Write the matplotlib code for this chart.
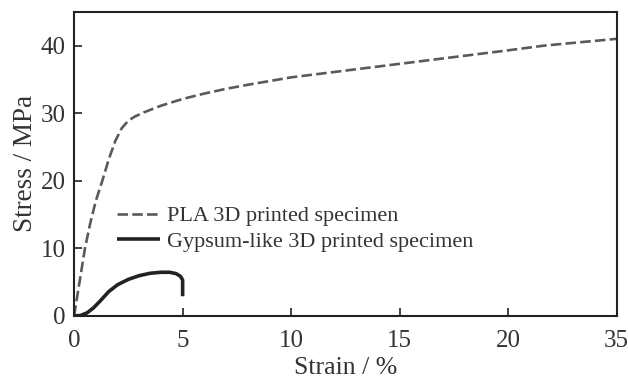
import numpy as np
import matplotlib
matplotlib.use('Agg')
import matplotlib.pyplot as plt

# PLA 3D printed specimen (strain %, stress MPa)
pla_strain = [0, 0.25, 0.5, 0.75, 1.0, 1.3, 1.6, 1.9, 2.2, 2.5, 2.8, 3.2, 4.0, 5.0, 6.0, 7.0, 8.0, 10.0, 12.0, 15.0, 17.5, 20.0, 25.0, 30.0, 35.0]
pla_stress = [0, 5.0, 10.0, 13.8, 17.0, 20.0, 23.2, 25.9, 27.8, 28.9, 29.5, 30.1, 31.1, 32.1, 32.9, 33.6, 34.2, 35.3, 36.1, 37.3, 38.3, 39.3, 40.0, 40.5, 41.0]

# Gypsum-like 3D printed specimen
gyp_strain = [0, 0.3, 0.6, 0.9, 1.2, 1.6, 2.0, 2.5, 3.0, 3.5, 4.0, 4.4, 4.7, 4.9, 5.0, 5.0]
gyp_stress = [0, 0.05, 0.45, 1.2, 2.2, 3.6, 4.6, 5.4, 5.95, 6.3, 6.45, 6.45, 6.25, 5.85, 5.3, 2.9]

x_ticks = [0, 5, 10, 15, 20, 35]
y_ticks = [0, 10, 20, 30, 40]

# broken x axis: 20-35 is squeezed into the width of 5
def fwd(x):
    x = np.asarray(x, dtype=float)
    return np.where(x <= 20, x, 20 + (x - 20) / 3.0)

def inv(y):
    y = np.asarray(y, dtype=float)
    return np.where(y <= 20, y, 20 + (y - 20) * 3.0)

plt.rcParams['font.family'] = ['Liberation Serif', 'DejaVu Serif']

fig = plt.figure(figsize=(6.28, 3.81), dpi=100)
ax = fig.add_axes([0.118, 0.171, 0.864, 0.798])
ax.set_xscale('function', functions=(fwd, inv))

ax.plot(pla_strain, pla_stress, color='#5a5a5a', lw=1.9, linestyle=(0, (4, 1.6)),
        label='PLA 3D printed specimen')
ax.plot(gyp_strain, gyp_stress, color='#222222', lw=2.6, solid_capstyle='butt',
        label='Gypsum-like 3D printed specimen')

ax.set_xlim(0, 35)
ax.set_ylim(0, 45)
ax.set_xticks(x_ticks)
ax.set_xticklabels([str(t) for t in x_ticks])
ax.set_yticks(y_ticks)
ax.tick_params(direction='in', length=6, width=1.2, labelsize=18, colors='#222222',
               labelcolor='#333333', pad=6)
ax.tick_params(axis='x', pad=10)
for s in ax.spines.values():
    s.set_linewidth(1.5)
    s.set_color('#222222')

ax.set_xlabel('Strain / %', fontsize=18.5, color='#333333', labelpad=4)
ax.set_ylabel('Stress / MPa', fontsize=19.5, color='#333333', labelpad=2)

ax.legend(loc='upper left', bbox_to_anchor=(0.079, 0.362), frameon=False, fontsize=16,
          handlelength=1.95, handletextpad=0.32, labelspacing=0.24, labelcolor='#333333',
          borderaxespad=0, borderpad=0)

fig.savefig('out.png', dpi=100)
